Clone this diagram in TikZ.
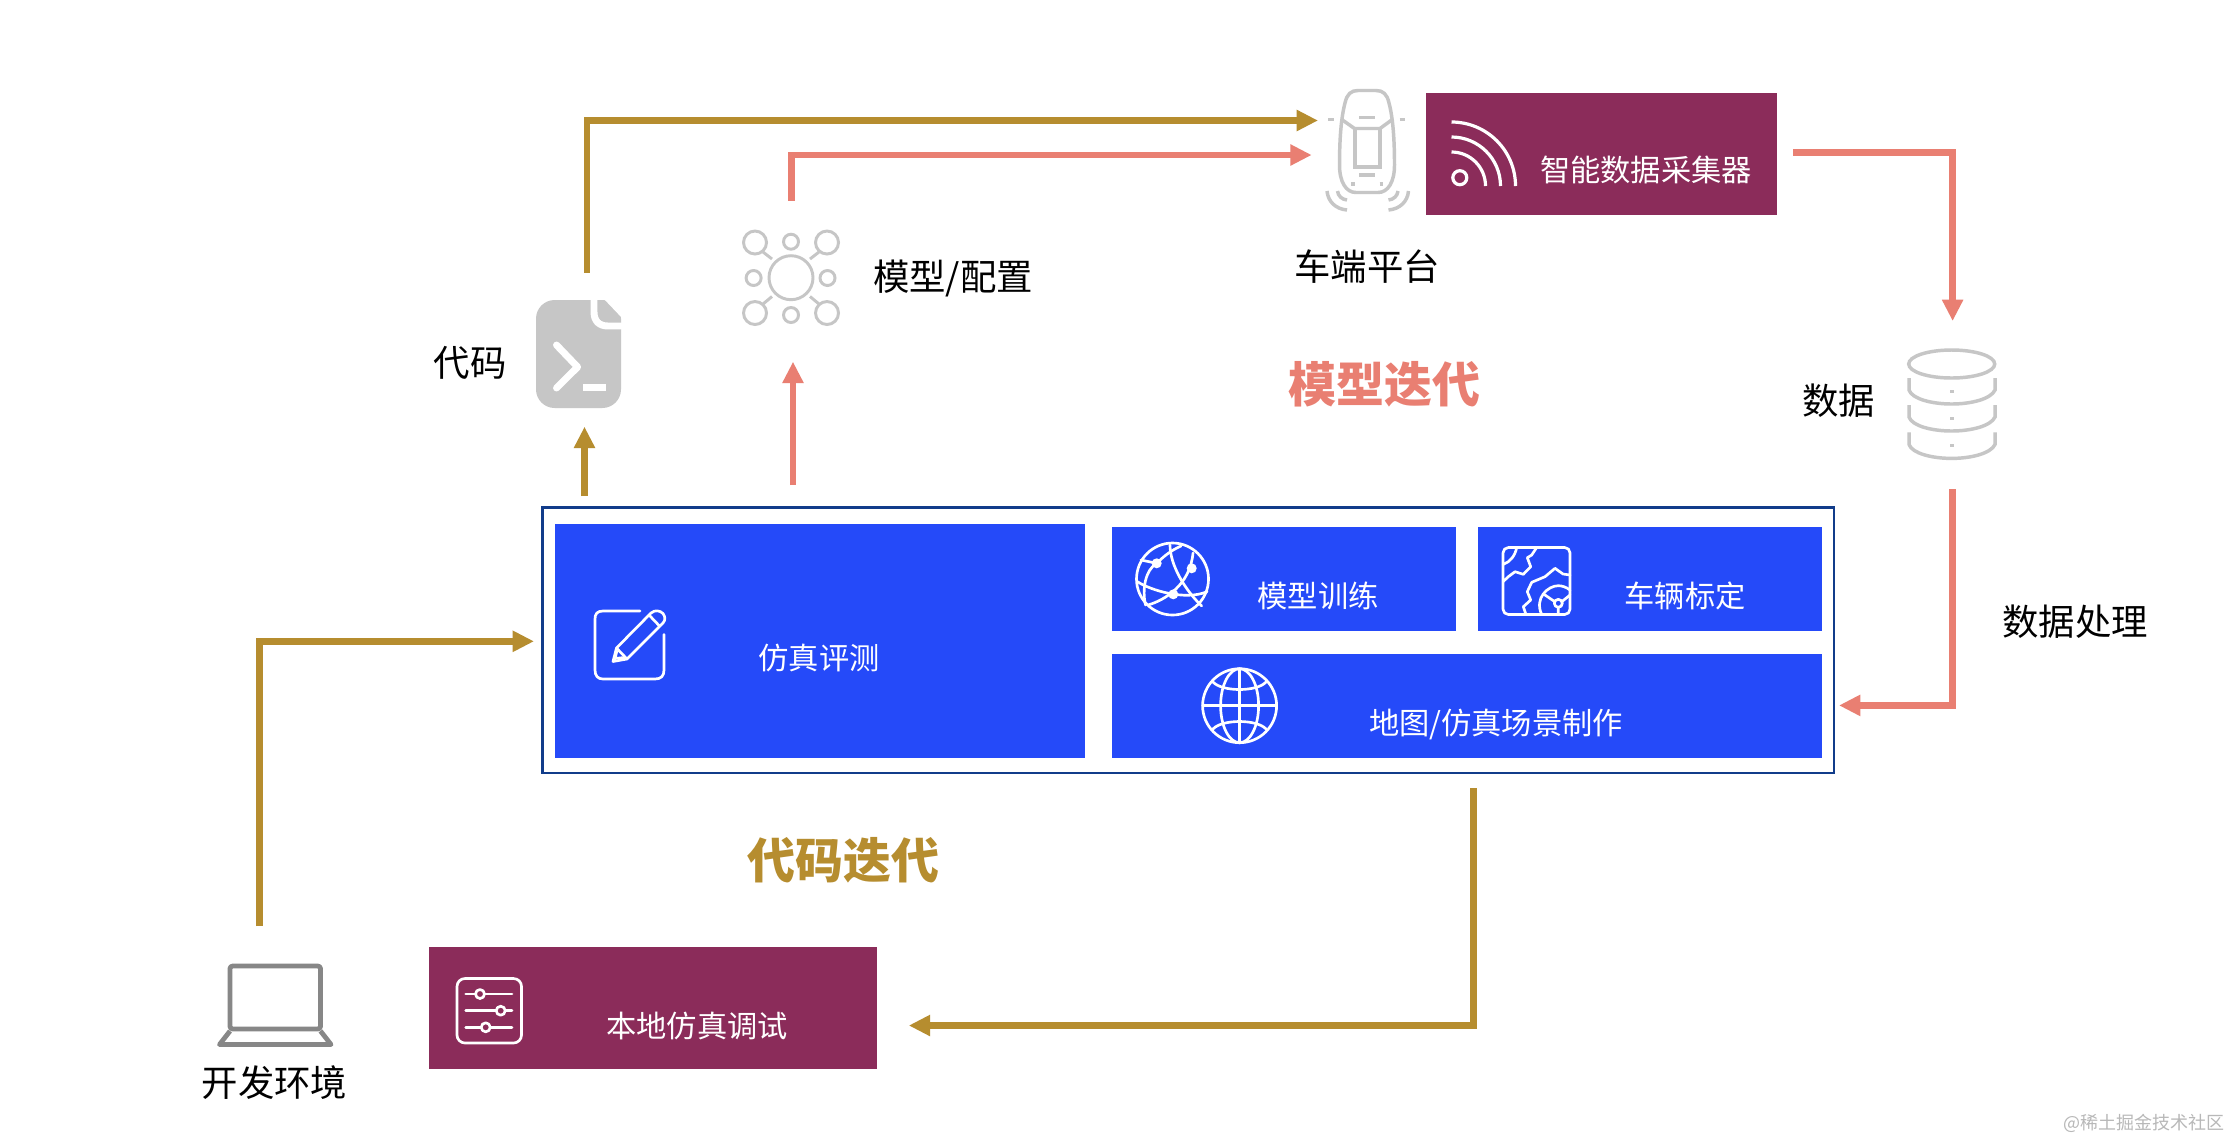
\documentclass[tikz,border=0pt]{standalone}
\usepackage{fontspec}
\setmainfont{Noto Sans CJK SC}
\usetikzlibrary{arrows.meta,calc}
\definecolor{gold}{HTML}{B68D2F}
\definecolor{salmon}{HTML}{E97F72}
\definecolor{plum}{HTML}{8B2C5A}
\definecolor{royal}{HTML}{254AF9}
\definecolor{navy}{HTML}{113C8A}
\definecolor{icongray}{HTML}{C6C6C6}
\newcommand{\fsz}[1]{\fontsize{#1}{#1}\selectfont}
\tikzset{
  x=0.75pt,y=-0.75pt,
  goldline/.style={draw=gold,line width=5.2pt,-{Triangle[length=16pt,width=15pt]}},
  salmonline/.style={draw=salmon,line width=5.2pt,-{Triangle[length=16pt,width=15pt]}},
  block/.style={fill=royal,draw=none,inner sep=0pt},
  plumblock/.style={fill=plum,draw=none,inner sep=0pt},
  whitelabel/.style={text=white,inner sep=0pt,font=\fsz{22.7}},
  blacklabel/.style={text=black,inner sep=0pt,font=\fsz{27.3}},
  titlelabel/.style={inner sep=0pt,font=\fsz{36}\bfseries},
  wicon/.style={draw=white,line width=2pt,line cap=round,line join=round},
  gicon/.style={draw=icongray,line width=2.2pt},
}
\newcommand{\rectnode}[6]{\node[#1,minimum width=#4*0.75pt,minimum height=#5*0.75pt,anchor=north west] (#6) at (#2,#3) {};}
\begin{document}
\begin{tikzpicture}
\useasboundingbox (0,0) rectangle (2230,1140);
\fill[white] (0,0) rectangle (2230,1140);
% main frame and blocks
\node[draw=navy,line width=2.2pt,inner sep=0pt,minimum width=1291.5*0.75pt,minimum height=265.5*0.75pt,anchor=north west] (frame) at (541,506) {};
\rectnode{block}{555}{524}{530}{233.7}{sim}
\rectnode{block}{1112}{527}{343.8}{103.7}{train}
\rectnode{block}{1478}{527}{344}{103.7}{calib}
\rectnode{block}{1112}{654}{710}{103.7}{mapblk}
\rectnode{plumblock}{1426}{93}{351}{122}{collector}
\rectnode{plumblock}{429}{947}{448}{122}{localsim}
% block labels
\node[whitelabel] (tsim) at (819,658) {仿真评测};
\node[whitelabel] (ttrain) at (1318,596) {模型训练};
\node[whitelabel] (tcalib) at (1685,596) {车辆标定};
\node[whitelabel] (tmap) at (1496,724) {地图/仿真场景制作};
\node[whitelabel] (tcoll) at (1646,170) {智能数据采集器};
\node[whitelabel] (tlocal) at (697,1025.5) {本地仿真调试};
% black labels
\node[blacklabel] (lcar) at (1367,266.5) {车端平台};
\node[blacklabel] (lcode) at (470,362.5) {代码};
\node[blacklabel] (lmodel) at (953,278) {模型/配置};
\node[blacklabel] (ldata) at (1838.5,401) {数据};
\node[blacklabel] (lproc) at (2075,622) {数据处理};
\node[blacklabel] (llap) at (274.5,1082.5) {开发环境};
\node[titlelabel,text=salmon] (tmodel) at (1384,384) {模型迭代};
\node[titlelabel,text=gold] (tcodeit) at (843,860.5) {代码迭代};
\node[inner sep=0pt,text=black!28,font=\fsz{13.5}] (wm) at (2144,1123.5) {@稀土掘金技术社区};
% connector anchors
\coordinate (c1) at (587,272.7); \coordinate (c1e) at (1318,120.5);
\coordinate (c2) at (791.5,200.7); \coordinate (c2e) at (1311.7,155);
\coordinate (c3) at (1793.4,152.5); \coordinate (c3e) at (1952.6,321);
\coordinate (c4) at (1952.6,489); \coordinate (c4e) at (1839,705.4);
\coordinate (c5) at (793,485); \coordinate (c5e) at (793,361.7);
\coordinate (c6) at (584.5,496); \coordinate (c6e) at (584.5,426.7);
\coordinate (c7) at (259.3,926); \coordinate (c7e) at (534,641.3);
\coordinate (c8) at (1473.5,788); \coordinate (c8e) at (908.8,1025.5);
\draw[goldline] (c1) |- (c1e);
\draw[salmonline] (c2) |- (c2e);
\draw[salmonline] (c3) -| (c3e);
\draw[salmonline] (c4) |- (c4e);
\draw[salmonline] (c5) -- (c5e);
\draw[goldline] (c6) -- (c6e);
\draw[goldline] (c7) |- (c7e);
\draw[goldline] (c8) |- (c8e);
% network icon
\begin{scope}[gicon]
\draw (791,277.7) circle[radius=22];
\foreach \p in {(755,242.5),(827,242.5),(755,313),(827,313)} \draw \p circle[radius=11.5];
\foreach \p in {(791,241.7),(791,315),(753.6,278),(827.5,278)} \draw \p circle[radius=7.5];
\draw (763,252)--(772,259) (819,252)--(810,259) (763,304)--(772,296.5) (819,304)--(810,296.5);
\end{scope}
% code icon
\fill[icongray,rounded corners=14] (536,300) rectangle (621,408);
\fill[white] (603,298) -- (623,298) -- (623,319) -- cycle;
\draw[white,line width=5.2pt] (594,298) -- (594,312) .. controls (594,321) and (599,326) .. (608,326) -- (623,326);
\draw[white,line width=5.2pt,line cap=round,line join=round] (556.5,345) -- (577.6,367) -- (556.5,388);
\fill[white] (582.5,384) rectangle (606,391);
% car icon
\begin{scope}[draw=icongray,line width=2.6pt]
\draw (1339.5,165) .. controls (1339.5,140) and (1341,118) .. (1345,103) .. controls (1347,94) and (1351,90.5) .. (1358,90.5) -- (1376,90.5) .. controls (1383,90.5) and (1387,94) .. (1389,103) .. controls (1393,118) and (1394.5,140) .. (1394.5,165) .. controls (1394.5,182) and (1388,192.5) .. (1378,192.5) -- (1356,192.5) .. controls (1346,192.5) and (1339.5,182) .. cycle;
\draw (1341,119) -- (1354.5,128.5) -- (1380,128.5) -- (1393,119);
\draw (1355,128.5) rectangle (1380,167);
\draw (1359,117.5) -- (1375,117.5) (1359,175) -- (1375,175);
\draw (1328,119.5) -- (1333.5,119.5) (1399.5,119.5) -- (1405,119.5);
\draw (1351,184) -- (1354.5,184) (1379.5,184) -- (1383,184);
\draw (1327,191) .. controls (1328,202) and (1336,209) .. (1347,210);
\draw (1337.5,191) .. controls (1338,196) and (1342,199.5) .. (1347,200);
\draw (1408.5,191) .. controls (1407.5,202) and (1399.5,209) .. (1388.5,210);
\draw (1398,191) .. controls (1397.5,196) and (1393.5,199.5) .. (1388.5,200);
\end{scope}
% wifi icon
\begin{scope}[draw=white,line width=2.4pt]
\draw (1459.8,177.7) circle[radius=7];
\draw (1451.5,152) arc[start angle=-90,end angle=0,radius=34];
\draw (1451.5,137) arc[start angle=-90,end angle=0,radius=49];
\draw (1451.5,122) arc[start angle=-90,end angle=0,radius=64];
\end{scope}
% database icon
\begin{scope}[draw=icongray,line width=2.6pt]
\draw (1951.7,364) ellipse[x radius=43,y radius=14];
\foreach \t in {378,405,432.4}{
 \draw (1909,\t) -- (1909,\t+12) .. controls (1912,\t+21) and (1932,\t+26) .. (1951.7,\t+26) .. controls (1971,\t+26) and (1991,\t+21) .. (1995,\t+12) -- (1995,\t);
 \fill[icongray] (1950,\t+11.5) rectangle (1953.5,\t+15);
}
\end{scope}
% pencil icon
\draw[wicon] (640,611) -- (603,611) .. controls (597,611) and (595,614) .. (595,619) -- (595,670) .. controls (595,676) and (598,679) .. (603,679) -- (655,679) .. controls (661,679) and (664,676) .. (664,670) -- (664,634.5);
\draw[wicon,line cap=butt] (613,661.5) -- (616.5,648) -- (651,613) .. controls (655,609.5) and (660,610.5) .. (663,613.5) .. controls (665.5,617) and (665.5,620) .. (663,623) -- (627,659) -- cycle;
\draw[wicon,line cap=butt] (649.5,615.5) -- (660,626.5) (616.5,648) -- (627,659);
\draw[wicon,line cap=butt] (617,650.5) -- (615,658.5) -- (624,657.5);
% model globe icon
\begin{scope}[wicon]
\draw (1172.5,579) circle[radius=36];
\draw (1137.5,581.7) .. controls (1150,590) and (1185,601) .. (1207,591.7);
\draw (1148,605) .. controls (1165,600) and (1190,585) .. (1193,553);
\draw (1170,545) .. controls (1170,565) and (1185,590) .. (1201.7,606);
\draw (1145.5,605) .. controls (1142,590) and (1145,570) .. (1156.7,563.3) .. controls (1165,555) and (1172,550) .. (1181,546);
\draw (1141,560) -- (1156.7,563.3);
\fill[white] (1156.7,563.3) circle[radius=5] (1191.7,568.3) circle[radius=5] (1173.3,594.3) circle[radius=5];
\end{scope}
% map globe icon
\begin{scope}[wicon]
\draw (1239.6,705.7) circle[radius=37];
\draw (1239.6,705.7) ellipse[x radius=19,y radius=37];
\draw (1239.6,668.7) -- (1239.6,742.7) (1202.6,705.7) -- (1276.6,705.7);
\draw (1213,682) .. controls (1222,692) and (1257,692) .. (1266,682);
\draw (1213,729) .. controls (1222,719) and (1257,719) .. (1266,729);
\end{scope}
% calibration icon
\begin{scope}[wicon]
\draw[rounded corners=4] (1503,547.5) rectangle (1570,614.5);
\draw (1503,564.5) .. controls (1510,562) and (1515,556) .. (1516.7,547.5);
\draw (1536.7,547.5) -- (1531.7,555) -- (1527.3,557.7) -- (1530.7,566.7) -- (1523.3,574.3) -- (1515,571.7) -- (1508.3,576.7) -- (1503,581.7);
\draw (1570,575) -- (1563,574) -- (1555,568.3) -- (1545,576.7) -- (1531.7,582.3) -- (1527.3,591.7) -- (1530.7,600) -- (1523.3,606.7) -- (1526,614.5);
\draw (1541.7,614.5) .. controls (1534,598) and (1548,585.7) .. (1558.3,585.7) .. controls (1562,585.7) and (1566,587) .. (1570,590);
\draw (1558.3,603.3) circle[radius=4];
\draw (1554.5,601.5) -- (1545,595) (1562,601.5) -- (1570,595) (1558.3,607.5) -- (1558.3,614.5);
\end{scope}
% slider icon
\begin{scope}[wicon]
\draw[rounded corners=6] (457,978.5) rectangle (521.5,1043);
\draw (465.7,994) -- (512,994) (465.7,1010.7) -- (512,1010.7) (465.7,1027.3) -- (512,1027.3);
\draw[fill=plum] (480,994) circle[radius=4.5] (500.7,1010.7) circle[radius=4.5] (485.7,1027.3) circle[radius=4.5];
\end{scope}
% laptop icon
\begin{scope}[draw=black!47,line width=3.6pt,line join=round]
\draw[rounded corners=2] (230,1029) -- (230,966) -- (320.5,966) -- (320.5,1029) -- cycle;
\draw (230,1031) -- (219.5,1044.5) -- (331,1044.5) -- (320.5,1031);
\end{scope}
\end{tikzpicture}
\end{document}
